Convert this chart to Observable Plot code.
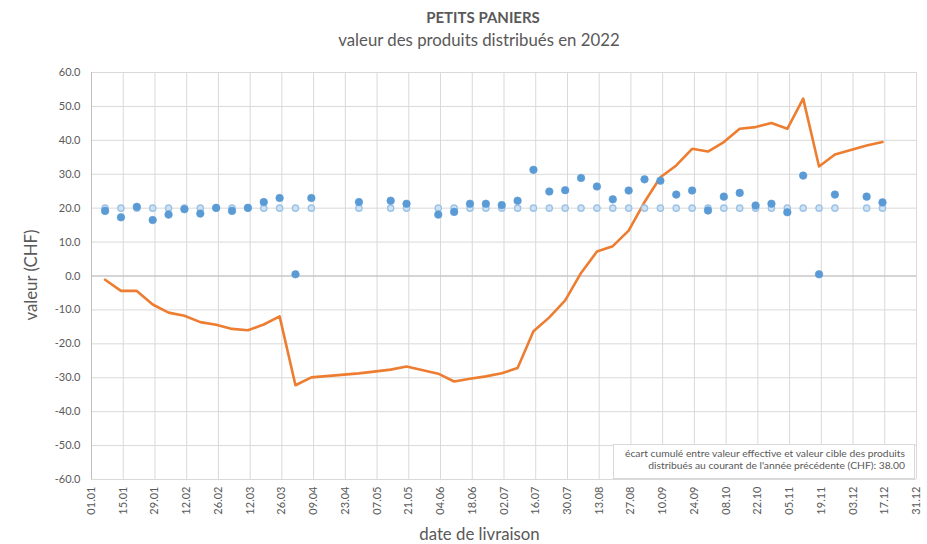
<!DOCTYPE html>
<html>
<head>
<meta charset="utf-8">
<script src="https://cdn.jsdelivr.net/npm/d3@7"></script>
<script src="https://cdn.jsdelivr.net/npm/@observablehq/plot@0.6"></script>
<style>
  body { margin: 0; background: #fff; font-family: Lato, "Open Sans", sans-serif; }
  #wrap { position: relative; width: 927px; height: 544px; overflow: hidden; }
  #wrap svg { position: absolute; left: 0; top: 0; }
  .t { position: absolute; color: #595959; white-space: nowrap; }
  #title { left: 0; width: 966px; top: 8px; text-align: center; font-weight: bold; font-size: 15px; }
  #subtitle { left: 0; width: 958px; top: 29px; text-align: center; font-size: 16.8px; }
  #xtitle { left: 0; width: 959px; top: 523px; text-align: center; font-size: 16.8px; }
  #ytitle { left: 30px; top: 275px; font-size: 16.8px; transform: translate(-50%, -50%) rotate(-90deg); }
  #note { position: absolute; left: 613px; top: 444px; width: 302px; height: 35px; background: #fff;
          border: 1px solid #d9d9d9; box-sizing: border-box; text-align: right; padding: 3px 9px 0 0;
          font-size: 10.3px; line-height: 11.5px; color: #595959; }
</style>
</head>
<body>
<div id="wrap">
  <div class="t" id="title">PETITS PANIERS</div>
  <div class="t" id="subtitle">valeur des produits distribués en 2022</div>
  <div class="t" id="xtitle">date de livraison</div>
  <div class="t" id="ytitle">valeur (CHF)</div>
</div>
<script>
// Delivery dates (2022)
const dates = [
  "2022-01-07","2022-01-14","2022-01-21","2022-01-28","2022-02-04","2022-02-11","2022-02-18","2022-02-25",
  "2022-03-04","2022-03-11","2022-03-18","2022-03-25","2022-04-01","2022-04-08","2022-04-29","2022-05-13",
  "2022-05-20","2022-06-03","2022-06-10","2022-06-17","2022-06-24","2022-07-01","2022-07-08","2022-07-15",
  "2022-07-22","2022-07-29","2022-08-05","2022-08-12","2022-08-19","2022-08-26","2022-09-02","2022-09-09",
  "2022-09-16","2022-09-23","2022-09-30","2022-10-07","2022-10-14","2022-10-21","2022-10-28","2022-11-04",
  "2022-11-11","2022-11-18","2022-11-25","2022-12-09","2022-12-16"
];
// Effective value of distributed products (CHF)
const actual = [
  19.2, 17.3, 20.4, 16.5, 18.1, 19.7, 18.4, 20.1,
  19.2, 20.1, 21.8, 23.0, 0.5, 23.0, 21.8, 22.2,
  21.3, 18.1, 18.9, 21.3, 21.3, 20.9, 22.2, 31.3,
  24.9, 25.3, 28.9, 26.4, 22.6, 25.2, 28.5, 28.1,
  24.0, 25.2, 19.3, 23.4, 24.5, 20.8, 21.3, 18.8,
  29.6, 0.5, 24.0, 23.4, 21.7
];
// Target value (CHF)
const target = [
  20, 20, 20, 20, 20, 20, 20, 20,
  20, 20, 20, 20, 20, 20, 20, 20,
  20, 20, 20, 20, 20, 20, 20, 20,
  20, 20, 20, 20, 20, 20, 20, 20,
  20, 20, 20, 20, 20, 20, 20, 20,
  20, 20, 20, 20, 20
];
// Cumulative gap (CHF)
const cumul = [
  -1.1, -4.4, -4.4, -8.4, -10.8, -11.7, -13.6, -14.4,
  -15.6, -16.0, -14.3, -11.9, -32.2, -29.9, -28.7, -27.6,
  -26.7, -28.8, -31.1, -30.3, -29.6, -28.7, -27.1, -16.3,
  -12.2, -7.2, 0.9, 7.2, 8.8, 13.4, 21.8, 29.1,
  32.6, 37.5, 36.7, 39.5, 43.4, 43.9, 45.1, 43.4,
  52.3, 32.3, 35.8, 38.5, 39.5
];
const xTickLabels = ["01.01","15.01","29.01","12.02","26.02","12.03","26.03","09.04","23.04","07.05","21.05",
  "04.06","18.06","02.07","16.07","30.07","13.08","27.08","10.09","24.09","08.10","22.10","05.11","19.11",
  "03.12","17.12","31.12"];
const yTicks = [-60, -50, -40, -30, -20, -10, 0, 10, 20, 30, 40, 50, 60];
const noteLines = [
  "écart cumulé entre valeur effective et valeur cible des produits",
  "distribués au courant de l'année précédente (CHF): 38.00"
];

const parse = d3.utcParse("%Y-%m-%d");
const parseTick = d3.utcParse("%d.%m.%Y");
const data = dates.map((d, i) => ({date: parse(d), actual: actual[i], target: target[i], cumul: cumul[i]}));
const tickDates = xTickLabels.map(s => parseTick(s + ".2022"));

const chart = Plot.plot({
  width: 927,
  height: 544,
  marginLeft: 91,
  marginRight: 11,
  marginTop: 72,
  marginBottom: 65,
  style: {fontFamily: "Lato, 'Open Sans', sans-serif", fontSize: "11px", color: "#595959", background: "transparent"},
  x: {
    type: "utc",
    domain: [tickDates[0], tickDates[tickDates.length - 1]],
    ticks: tickDates,
    tickFormat: d3.utcFormat("%d.%m"),
    tickRotate: -90,
    tickSize: 0,
    tickPadding: 7,
    label: null
  },
  y: {
    domain: [-60, 60],
    ticks: yTicks,
    tickFormat: d => d.toFixed(1),
    tickSize: 0,
    tickPadding: 11,
    label: null
  },
  marks: [
    Plot.gridX(tickDates, {stroke: "#d9d9d9", strokeOpacity: 1}),
    Plot.gridY(yTicks, {stroke: "#d9d9d9", strokeOpacity: 1}),
    Plot.ruleY([0], {stroke: "#bfbfbf"}),
    Plot.ruleX([tickDates[0]], {stroke: "#bfbfbf"}),
    Plot.line(data, {x: "date", y: "cumul", stroke: "#ed7d31", strokeWidth: 2.6, strokeLinejoin: "round"}),
    Plot.dot(data, {x: "date", y: "target", r: 3.1, fill: "#cfe1f3", stroke: "#9dc3e6", strokeWidth: 1.4}),
    Plot.dot(data, {x: "date", y: "actual", r: 3.8, fill: "#5b9bd5", stroke: "#5b9bd5", strokeWidth: 0.6})
  ]
});

const wrap = document.getElementById("wrap");
wrap.insertBefore(chart, wrap.firstChild);

const note = document.createElement("div");
note.id = "note";
note.innerHTML = noteLines.join("<br>");
wrap.appendChild(note);
</script>
</body>
</html>
